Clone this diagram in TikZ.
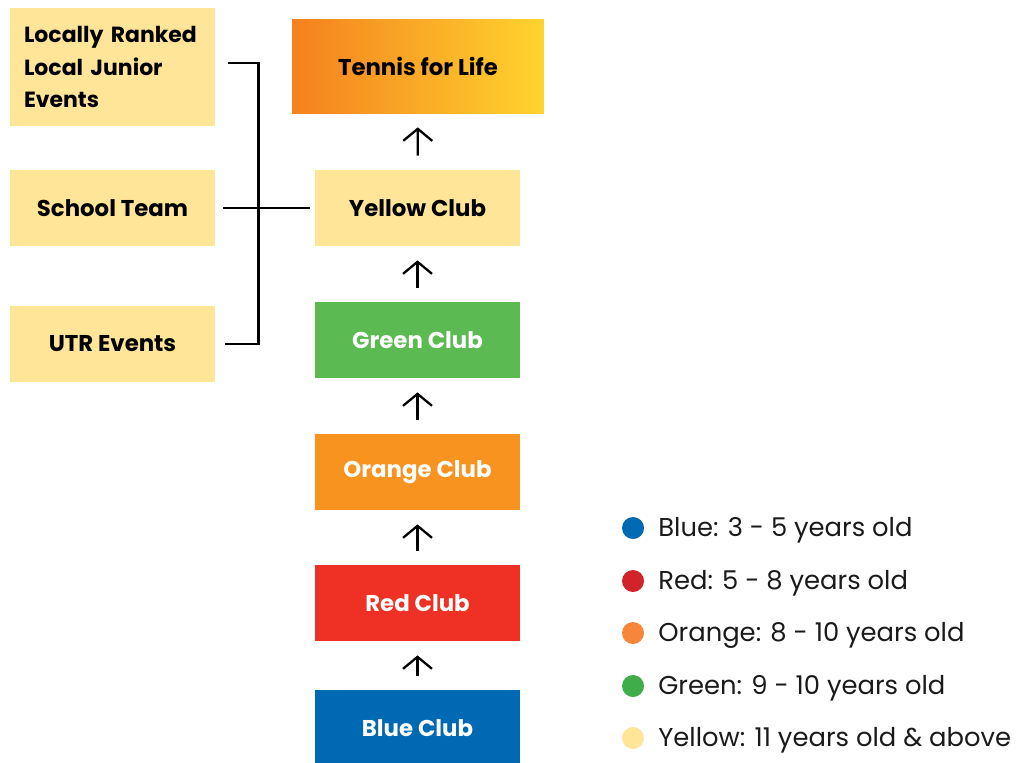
\documentclass[tikz,border=0pt]{standalone}
\usepackage{fontspec}
\setmainfont{Poppins}
\usetikzlibrary{arrows.meta, positioning}

\definecolor{paleyellow}{HTML}{FFE597}
\definecolor{clubgreen}{HTML}{5BBB52}
\definecolor{cluborange}{HTML}{F7931E}
\definecolor{clubred}{HTML}{EE3124}
\definecolor{clubblue}{HTML}{0069B4}
\definecolor{lifeorange}{HTML}{F4801F}
\definecolor{lifeyellow}{HTML}{FFD42E}
\definecolor{keyblue}{HTML}{0069B4}
\definecolor{keyred}{HTML}{D2232A}
\definecolor{keyorange}{HTML}{F6863A}
\definecolor{keygreen}{HTML}{3FAE49}
\definecolor{textgrey}{HTML}{1A1A1A}

\begin{document}
\begin{tikzpicture}[x=0.02cm, y=-0.02cm,
  club/.style={minimum width=4.1cm, minimum height=1.52cm, inner sep=0pt, font=\bfseries\fontsize{13}{15}\selectfont},
  link/.style={black, line width=1.4pt},
  up/.style={-{Straight Barb[length=0.24cm, width=0.58cm]}, line width=1.3pt, shorten <=0.28cm, shorten >=0.28cm},
  dot/.style={circle, inner sep=0pt, minimum size=0.44cm},
  key/.style={anchor=west, inner sep=0pt, yshift=-0.05cm, text=textgrey, font=\fontsize{14.7}{17}\selectfont}]
\useasboundingbox (0,0) rectangle (1016,762);

% pathway boxes
\node[club, minimum width=5.04cm, minimum height=1.88cm, left color=lifeorange, right color=lifeyellow] (life) at (418,66) {Tennis for Life};
\node[club, fill=paleyellow] (yellow) at (417.5,208) {Yellow Club};
\node[club, fill=clubgreen, text=white] (green) at (417.5,340) {Green Club};
\node[club, fill=cluborange, text=white] (orange) at (417.5,472) {Orange Club};
\node[club, fill=clubred, text=white] (red) at (417.5,603) {Red Club};
\node[club, fill=clubblue, text=white] (blue) at (417.5,728) {Blue Club};

% side activities
\node[club, fill=paleyellow, minimum height=2.36cm, text width=3.54cm, inner xsep=0.28cm, align=left, font=\bfseries\fontsize{12.5}{18.7}\selectfont] (ranked) at (112.5,67) {Locally~Ranked\\Local Junior\\Events};
\node[club, fill=paleyellow] (school) at (112.5,208) {School Team};
\node[club, fill=paleyellow] (utr) at (112.5,344) {UTR Events};

% progression
\draw[up] (blue) -- (red);
\draw[up] (red) -- (orange);
\draw[up] (orange) -- (green);
\draw[up] (green) -- (yellow);
\draw[up] (yellow) -- (life);

% bracket
\draw[link] ([xshift=0.26cm,yshift=0.08cm]ranked.east) -- ++(0.6cm,0) |- ([xshift=0.2cm]utr.east);
\draw[link, shorten <=0.16cm, shorten >=0.1cm] (school) -- (yellow);

% legend
\node[dot, fill=keyblue] (kb) at (633,528) {};
\node[key] (kbt) at (658,528) {Blue: 3 - 5 years old};
\node[dot, fill=keyred] (kr) at (633,581) {};
\node[key] (krt) at (658,581) {Red: 5 - 8 years old};
\node[dot, fill=keyorange] (ko) at (633,633) {};
\node[key] (kot) at (658,633) {Orange: 8 - 10 years old};
\node[dot, fill=keygreen] (kg) at (633,686) {};
\node[key] (kgt) at (658,686) {Green: 9 - 10 years old};
\node[dot, fill=paleyellow] (ky) at (633,738) {};
\node[key] (kyt) at (658,738) {Yellow: 11 years old \& above};

\end{tikzpicture}
\end{document}
